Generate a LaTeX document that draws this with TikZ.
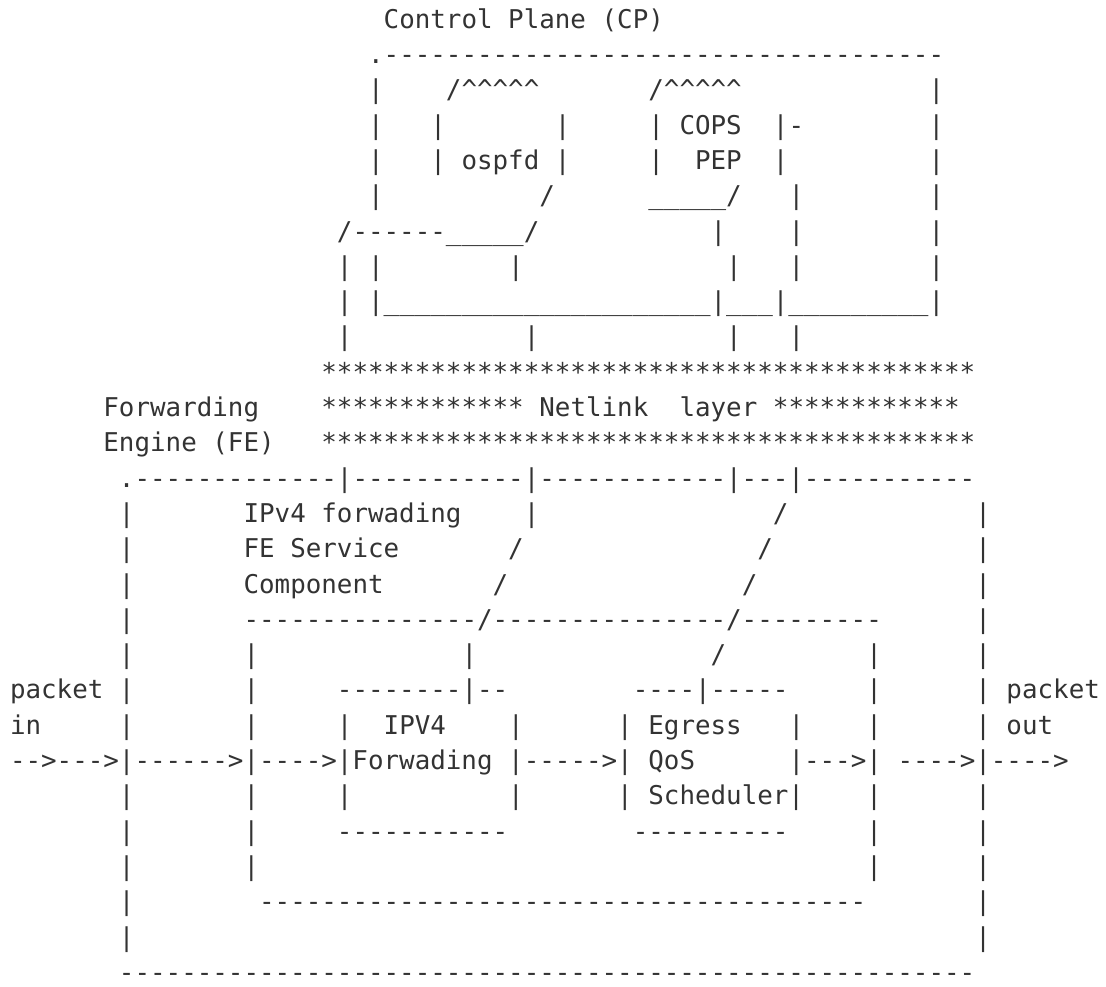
\documentclass[tikz,border=0pt]{standalone}
\usepackage{fontspec}
\setmonofont{DejaVu Sans Mono}
\definecolor{ink}{HTML}{333333}
% n copies of a character
\newcommand\rep[2]{\foreach \ii in {1,...,#1}{#2}}
\begin{document}
\begin{tikzpicture}[x=1pt,y=1pt]
% character grid: cell width, line pitch, left edge of column 0, baseline of line 1
\def\cw{15.57}
\def\lh{35.3}
\def\xo{10}
\def\yo{28.2}
\tikzset{cell/.style={anchor=base west, inner sep=0pt, outer sep=0pt,
  font=\ttfamily\fontsize{25.86}{31}\selectfont, text=ink}}
% \tx{line}{column}{characters}
\newcommand\tx[3]{\node[cell] (r#1c#2) at ({\xo+#2*\cw},{-\yo-(#1-1)*\lh}) {#3};}
\useasboundingbox (0,0) rectangle (1106,-986);
\fill[white] (0,0) rectangle (1106,-986);

% ---- Control Plane ----
\tx{1}{24}{Control Plane (CP)}
\tx{2}{23}{.\rep{36}{-}}
\tx{3}{23}{|} \tx{3}{28}{/\rep{5}{\textasciicircum}} \tx{3}{41}{/\rep{5}{\textasciicircum}} \tx{3}{59}{|}
\tx{4}{23}{|} \tx{4}{27}{|} \tx{4}{35}{|} \tx{4}{41}{|} \tx{4}{43}{COPS} \tx{4}{49}{|-} \tx{4}{59}{|}
\tx{5}{23}{|} \tx{5}{27}{|} \tx{5}{29}{ospfd} \tx{5}{35}{|} \tx{5}{41}{|} \tx{5}{44}{PEP} \tx{5}{49}{|} \tx{5}{59}{|}
\tx{6}{23}{|} \tx{6}{34}{/} \tx{6}{41}{\rep{5}{\_}/} \tx{6}{50}{|} \tx{6}{59}{|}
\tx{7}{21}{/\rep{6}{-}\rep{5}{\_}/} \tx{7}{45}{|} \tx{7}{50}{|} \tx{7}{59}{|}
\tx{8}{21}{|} \tx{8}{23}{|} \tx{8}{32}{|} \tx{8}{46}{|} \tx{8}{50}{|} \tx{8}{59}{|}
\tx{9}{21}{|} \tx{9}{23}{|\rep{21}{\_}|\rep{3}{\_}|\rep{9}{\_}|}
\tx{10}{21}{|} \tx{10}{33}{|} \tx{10}{46}{|} \tx{10}{50}{|}

% ---- Netlink layer ----
\tx{11}{20}{\rep{42}{*}}
\tx{12}{6}{Forwarding} \tx{12}{20}{\rep{13}{*}} \tx{12}{34}{Netlink} \tx{12}{43}{layer} \tx{12}{49}{\rep{12}{*}}
\tx{13}{6}{Engine (FE)} \tx{13}{20}{\rep{42}{*}}

% ---- Forwarding Engine ----
\tx{14}{7}{.\rep{13}{-}|\rep{11}{-}|\rep{12}{-}|---|\rep{11}{-}}
\tx{15}{7}{|} \tx{15}{15}{IPv4 forwading} \tx{15}{33}{|} \tx{15}{49}{/} \tx{15}{62}{|}
\tx{16}{7}{|} \tx{16}{15}{FE Service} \tx{16}{32}{/} \tx{16}{48}{/} \tx{16}{62}{|}
\tx{17}{7}{|} \tx{17}{15}{Component} \tx{17}{31}{/} \tx{17}{47}{/} \tx{17}{62}{|}
\tx{18}{7}{|} \tx{18}{15}{\rep{15}{-}/\rep{15}{-}/\rep{9}{-}} \tx{18}{62}{|}
\tx{19}{7}{|} \tx{19}{15}{|} \tx{19}{29}{|} \tx{19}{45}{/} \tx{19}{55}{|} \tx{19}{62}{|}
\tx{20}{0}{packet} \tx{20}{7}{|} \tx{20}{15}{|} \tx{20}{21}{\rep{8}{-}|--} \tx{20}{40}{----|-----} \tx{20}{55}{|} \tx{20}{62}{|} \tx{20}{64}{packet}
\tx{21}{0}{in} \tx{21}{7}{|} \tx{21}{15}{|} \tx{21}{21}{|} \tx{21}{24}{IPV4} \tx{21}{32}{|} \tx{21}{39}{|} \tx{21}{41}{Egress} \tx{21}{50}{|} \tx{21}{55}{|} \tx{21}{62}{|} \tx{21}{64}{out}
\tx{22}{0}{-->--->|------>|---->|Forwading} \tx{22}{32}{|----->|} \tx{22}{41}{QoS} \tx{22}{50}{|--->|} \tx{22}{57}{---->|---->}
\tx{23}{7}{|} \tx{23}{15}{|} \tx{23}{21}{|} \tx{23}{32}{|} \tx{23}{39}{|} \tx{23}{41}{Scheduler|} \tx{23}{55}{|} \tx{23}{62}{|}
\tx{24}{7}{|} \tx{24}{15}{|} \tx{24}{21}{\rep{11}{-}} \tx{24}{40}{\rep{10}{-}} \tx{24}{55}{|} \tx{24}{62}{|}
\tx{25}{7}{|} \tx{25}{15}{|} \tx{25}{55}{|} \tx{25}{62}{|}
\tx{26}{7}{|} \tx{26}{16}{\rep{39}{-}} \tx{26}{62}{|}
\tx{27}{7}{|} \tx{27}{62}{|}
\tx{28}{7}{\rep{55}{-}}
\end{tikzpicture}
\end{document}
